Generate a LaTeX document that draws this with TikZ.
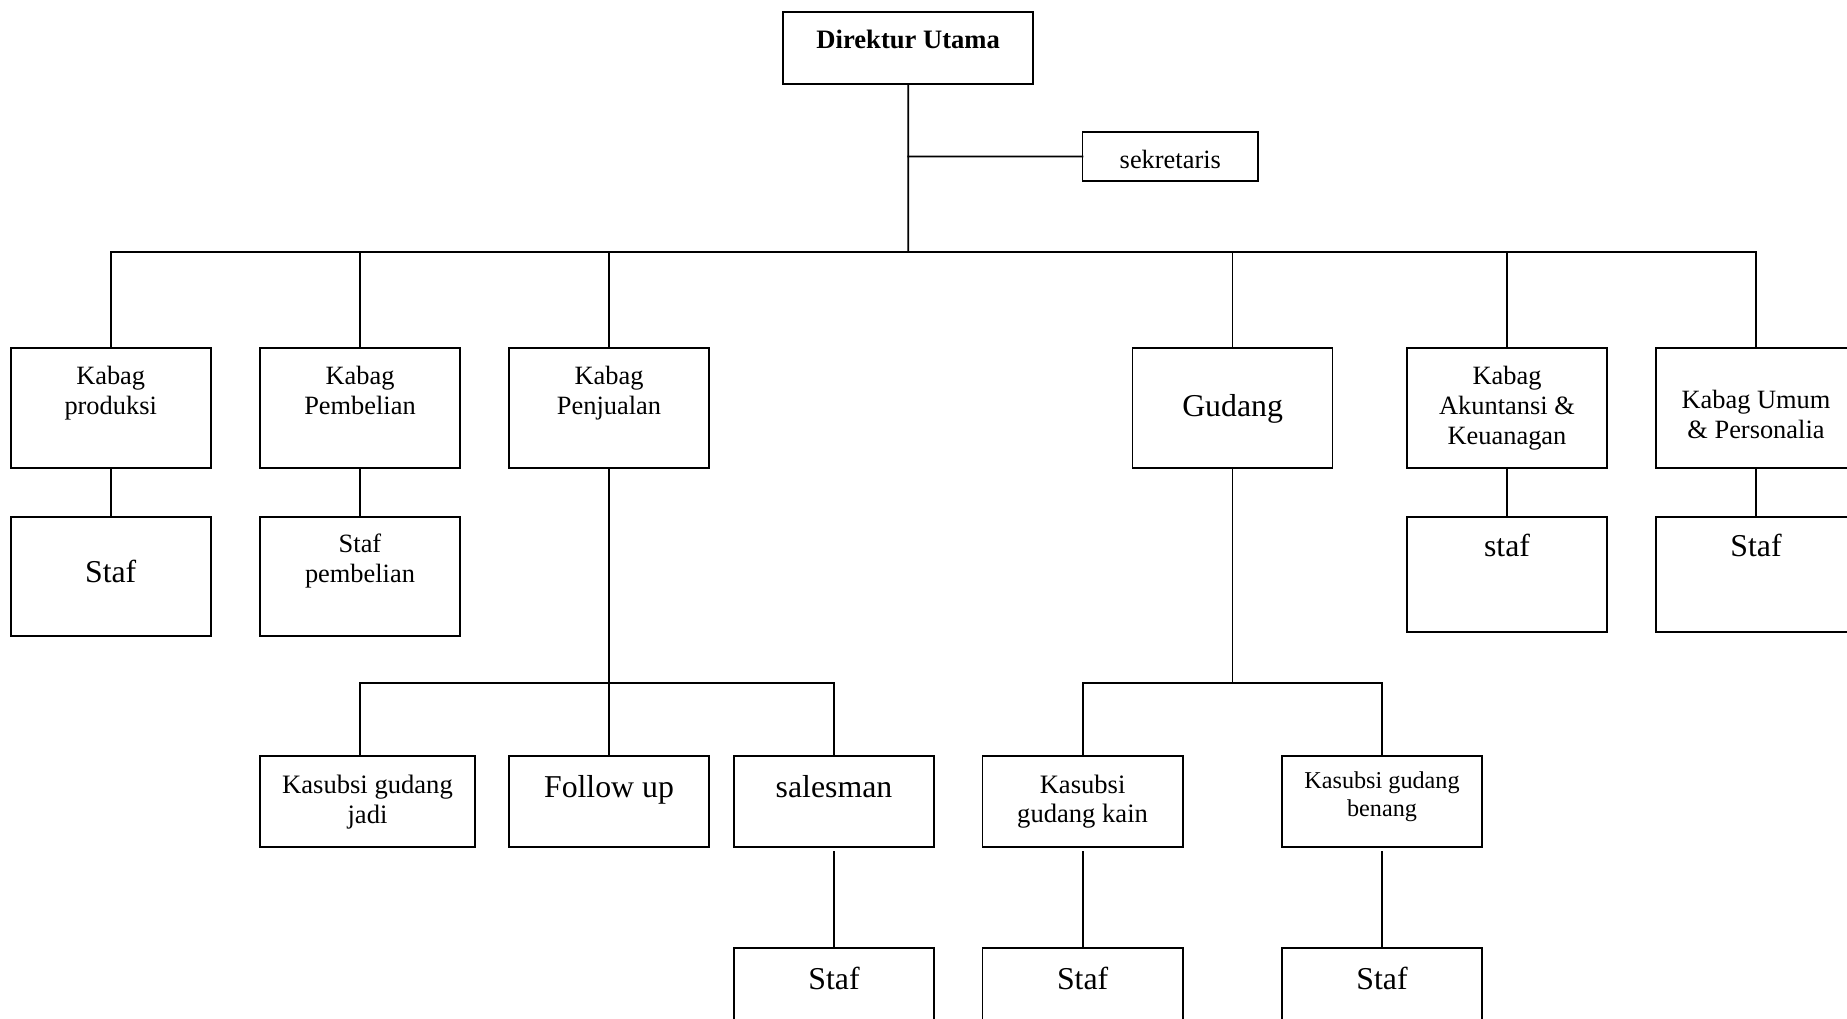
\documentclass[tikz,border=0pt]{standalone}
\usepackage{fontspec}
\setmainfont{Liberation Serif}
\begin{document}
\begin{tikzpicture}[x=0.5pt,y=-0.5pt,
  box/.style={draw, line width=0.9pt, inner sep=0pt, outer sep=0pt, anchor=north west, rectangle},
  txt/.style={anchor=north, inner sep=0pt, outer sep=0pt, align=center},
  ln/.style={line width=0.9pt, line cap=rect},
  fn/.style={font=\fontsize{13.2}{15}\selectfont},
  fb/.style={font=\fontsize{15.9}{18}\selectfont}]
\useasboundingbox (0,0) rectangle (1847,1018);
\clip (0,0) rectangle (1847,1018);
% boxes
\node[box, minimum width=124.85pt, minimum height=36.3pt] (dir) at (783.3,11.7) {};
\node[box, minimum width=87.95pt, minimum height=24.2pt] (sek) at (1082.4,132.3) {};
\node[box, minimum width=100pt, minimum height=60pt] (prod) at (10.7,348) {};
\node[box, minimum width=100pt, minimum height=60pt] (pemb) at (260,348) {};
\node[box, minimum width=100pt, minimum height=60pt] (penj) at (509,348) {};
\node[box, minimum width=100pt, minimum height=60pt] (gud) at (1132.5,348) {};
\node[box, minimum width=100pt, minimum height=60pt] (aku) at (1407,348) {};
\node[box, minimum width=100pt, minimum height=60pt] (umum) at (1656,348) {};
\node[box, minimum width=100pt, minimum height=59.65pt] (stprod) at (10.7,516.7) {};
\node[box, minimum width=100pt, minimum height=59.65pt] (stpemb) at (260,516.7) {};
\node[box, minimum width=100pt, minimum height=57.5pt] (staku) at (1407,516.7) {};
\node[box, minimum width=100pt, minimum height=57.5pt] (stumum) at (1656,516.7) {};
\node[box, minimum width=107.5pt, minimum height=45.5pt] (jadi) at (260,756) {};
\node[box, minimum width=100pt, minimum height=45.5pt] (follow) at (509,756) {};
\node[box, minimum width=100pt, minimum height=45.5pt] (sales) at (734,756) {};
\node[box, minimum width=100.25pt, minimum height=45.5pt] (kain) at (982.5,756) {};
\node[box, minimum width=100pt, minimum height=45.5pt] (benang) at (1282,756) {};
\node[box, minimum width=100pt, minimum height=56pt] (st1) at (734,948) {};
\node[box, minimum width=100.25pt, minimum height=56pt] (st2) at (982.5,948) {};
\node[box, minimum width=100pt, minimum height=56pt] (st3) at (1282,948) {};
% texts
\node[txt, font=\bfseries\fontsize{13.3}{15}\selectfont] (tdir) at (908.2,30.3) {Direktur Utama};
\node[txt, fn] (tsek) at (1170.3,150) {sekretaris};
\node[txt, fn] (tprod) at (110.7,366) {Kabag\\produksi};
\node[txt, fn] (tpemb) at (360,366) {Kabag\\Pembelian};
\node[txt, fn] (tpenj) at (609,366) {Kabag\\Penjualan};
\node[txt, fb] (tgud) at (1232.6,394.6) {Gudang};
\node[txt, fn] (taku) at (1507,366) {Kabag\\Akuntansi \&\\Keuanagan};
\node[txt, fn] (tumum) at (1756,390.3) {Kabag Umum\\\& Personalia};
\node[txt, fb] (tstprod) at (110.7,560) {Staf};
\node[txt, font=\fontsize{13.2}{15.3}\selectfont] (tstpemb) at (360,533.7) {Staf\\pembelian};
\node[txt, fb] (tstaku) at (1507,534) {staf};
\node[txt, fb] (tstumum) at (1756,534) {Staf};
\node[txt, font=\fontsize{13.3}{15}\selectfont] (tjadi) at (367.5,774.7) {Kasubsi gudang\\jadi};
\node[txt, fb] (tfollow) at (609,775) {Follow up};
\node[txt, fb] (tsales) at (834,775) {salesman};
\node[txt, font=\fontsize{13.3}{14.2}\selectfont] (tkain) at (1082.6,775.3) {Kasubsi\\gudang kain};
\node[txt, font=\fontsize{12.1}{13.85}\selectfont] (tbenang) at (1382,771.8) {Kasubsi gudang\\benang};
\node[txt, fb] (tst1) at (834,966.6) {Staf};
\node[txt, fb] (tst2) at (1082.6,966.6) {Staf};
\node[txt, fb] (tst3) at (1382,966.6) {Staf};
% connectors
\coordinate (busL) at (110.7,252);
\coordinate (busR) at (1756,252);
\coordinate (busC) at (908.2,252);
\coordinate (sekj) at (908.2,156.5);
\draw[ln] (dir.south) -- (busC);
\draw[ln] (sekj) -- (sek.west);
\draw[ln] (busL) -- (busR);
\foreach \n in {prod,pemb,penj,gud,aku,umum}
  \draw[ln] (\n.north) -- (\n.north |- busL);
\draw[ln] (prod.south) -- (stprod.north);
\draw[ln] (pemb.south) -- (stpemb.north);
\draw[ln] (aku.south) -- (staku.north);
\draw[ln] (umum.south) -- (stumum.north);
\coordinate (pjL) at (360,683);
\coordinate (pjC) at (penj.south |- pjL);
\coordinate (pjR) at (sales.north |- pjL);
\draw[ln] (penj.south) -- (pjC);
\draw[ln] (pjL) -- (pjR);
\draw[ln] (pjL) -- (pjL |- jadi.north);
\draw[ln] (pjC) -- (follow.north);
\draw[ln] (pjR) -- (sales.north);
\coordinate (gdC) at (gud.south |- pjL);
\coordinate (gdL) at (kain.north |- pjL);
\coordinate (gdR) at (benang.north |- pjL);
\draw[ln] (gud.south) -- (gdC);
\draw[ln] (gdL) -- (gdR);
\draw[ln] (gdL) -- (kain.north);
\draw[ln] (gdR) -- (benang.north);
\draw[ln, shorten <=2.5pt] (sales.south) -- (st1.north);
\draw[ln, shorten <=2.5pt] (kain.south) -- (st2.north);
\draw[ln, shorten <=2.5pt] (benang.south) -- (st3.north);
\end{tikzpicture}
\end{document}
